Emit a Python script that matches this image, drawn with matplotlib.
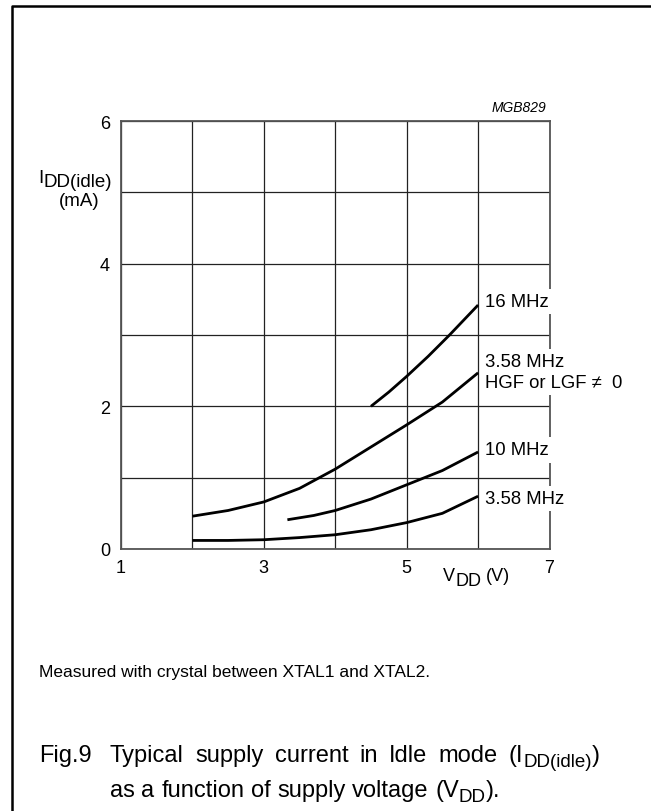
import matplotlib
matplotlib.use("Agg")
import matplotlib.pyplot as plt
from matplotlib.lines import Line2D

plt.rcParams['font.family'] = ['Liberation Sans', 'DejaVu Sans']

# Data
v_16 = [4.5, 4.75, 5.0, 5.3, 5.6, 6.0]
i_16 = [2.0, 2.2, 2.42, 2.7, 3.0, 3.42]
v_358h = [2.0, 2.5, 3.0, 3.5, 4.0, 4.5, 5.0, 5.5, 6.0]
i_358h = [0.46, 0.54, 0.66, 0.85, 1.12, 1.43, 1.74, 2.06, 2.47]
v_10 = [3.33, 3.7, 4.0, 4.5, 5.0, 5.5, 6.0]
i_10 = [0.41, 0.47, 0.54, 0.70, 0.90, 1.10, 1.36]
v_358 = [2.0, 2.5, 3.0, 3.5, 4.0, 4.5, 5.0, 5.5, 6.0]
i_358 = [0.12, 0.12, 0.13, 0.16, 0.20, 0.27, 0.37, 0.50, 0.74]

curve_labels = ["16 MHz", "3.58 MHz", "HGF or LGF \u2260  0", "10 MHz", "3.58 MHz"]
label_y = [3.47, 2.63, 2.34, 1.39, 0.71]

x_ticks = [1, 3, 5, 7]
y_ticks = [0, 2, 4, 6]

W, H = 651, 812
fig = plt.figure(figsize=(W / 100, H / 100), dpi=100)
ax = fig.add_axes([121 / W, 1 - 550 / H, (549.5 - 121) / W, (550 - 122) / H])

ax.set_xlim(1, 7)
ax.set_ylim(0, 6)
ax.set_xticks(range(1, 8))
ax.set_yticks(range(0, 7))
ax.set_xticklabels([str(v) if v in x_ticks else "" for v in range(1, 8)])
ax.set_yticklabels([str(v) if v in y_ticks else "" for v in range(0, 7)])
ax.tick_params(length=0, labelsize=13, colors='black')
ax.tick_params(axis='y', pad=8)
ax.tick_params(axis='x', pad=7)
ax.grid(True, color='#222222', linewidth=0.9)
for s in ax.spines.values():
    s.set_color('#555555')
    s.set_linewidth(1.3)

for v, i in [(v_16, i_16), (v_358h, i_358h), (v_10, i_10), (v_358, i_358)]:
    ax.plot(v, i, color='black', linewidth=2.0, solid_capstyle='butt', zorder=4)

for lab, yv in zip(curve_labels, label_y):
    ax.text(6.1, yv, lab, fontsize=13.3, ha='left', va='center',
            bbox=dict(facecolor='white', edgecolor='none', pad=3), zorder=5, clip_on=False)

fig.canvas.draw()
renderer = fig.canvas.get_renderer()


def make_run(pieces):
    arts = []
    total = 0.0
    for s, size, dy in pieces:
        t = fig.text(0, 0, s, fontsize=size, ha='left', va='baseline')
        w = t.get_window_extent(renderer).width
        arts.append((t, w, dy))
        total += w
    return arts, total


def place_line(words, x0, y, x_end=None, space=0.0):
    runs = [make_run(wd) for wd in words]
    widths = [r[1] for r in runs]
    gap = space
    if x_end is not None and len(runs) > 1:
        gap = (x_end - x0 - sum(widths)) / (len(runs) - 1)
    x = x0
    for arts, w in runs:
        for t, tw, dy in arts:
            t.set_position((x / W, 1 - (y + dy) / H))
            x += tw
        x += gap


# y-axis label
place_line([[("I", 13.5, 0), ("DD(idle)", 13.5, 4)]], 38, 183)
fig.text(79 / W, 1 - 202 / H, "(mA)", fontsize=13.5, ha='center', va='center')
# x-axis label
place_line([[("V", 13, 0), ("DD", 13, 5)], [("(V)", 13, 0)]], 443, 581, space=5)

fig.text(546 / W, 1 - 108 / H, "MGB829", fontsize=10, style='italic', ha='right', va='center')

fs_cap = 17.0
fs_sub = 13.5
fig.text(39 / W, 1 - 673 / H, "Measured with crystal between XTAL1 and XTAL2.", fontsize=12.5,
         ha='left', va='center')
fig.text(39 / W, 1 - 762 / H, "Fig.9", fontsize=fs_cap, ha='left', va='baseline')

line1 = [[(w, fs_cap, 0)] for w in ["Typical", "supply", "current", "in", "Idle", "mode"]]
line1.append([("(I", fs_cap, 0), ("DD(idle)", fs_sub, 5), (")", fs_cap, 0)])
place_line(line1, 110, 762, x_end=600)

line2 = [[(w, fs_cap, 0)] for w in ["as", "a", "function", "of", "supply", "voltage"]]
line2.append([("(V", fs_cap, 0), ("DD", fs_sub, 5), (").", fs_cap, 0)])
place_line(line2, 110, 797, space=fs_cap * 1.389 * 0.278)

# frame (left and top edges)
fig.add_artist(Line2D([11.5 / W, 11.5 / W, 1.0], [0.0, 1 - 6.5 / H, 1 - 6.5 / H],
                      transform=fig.transFigure, color='black', linewidth=1.8))

fig.savefig("out.png", dpi=100)
